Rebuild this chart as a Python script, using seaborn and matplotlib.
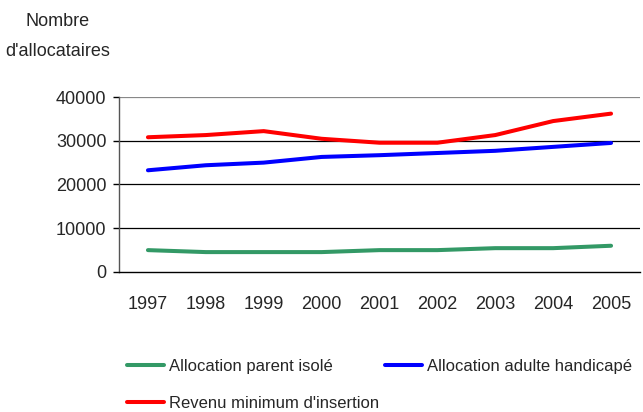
import matplotlib
matplotlib.use("Agg")
import matplotlib.pyplot as plt
import seaborn as sns
import pandas as pd
import numpy as np

years = ["1997", "1998", "1999", "2000", "2001", "2002", "2003", "2004", "2005"]
api = [5000, 4550, 4550, 4550, 5000, 5000, 5450, 5450, 6000]
aah = [23250, 24400, 25000, 26300, 26700, 27200, 27700, 28600, 29500]
rmi = [30800, 31300, 32200, 30450, 29550, 29550, 31300, 34500, 36200]
series_names = ["Allocation parent isolé", "Allocation adulte handicapé",
                "Revenu minimum d'insertion"]
colors = ["#339966", "#0000FF", "#FF0000"]
y_ticks = [0, 10000, 20000, 30000, 40000]

df = pd.DataFrame({
    "x": list(range(len(years))) * 3,
    "val": api + aah + rmi,
    "serie": [series_names[0]] * len(years) + [series_names[1]] * len(years)
             + [series_names[2]] * len(years),
})

sns.set_style("white")
plt.rcParams["font.family"] = ["Liberation Sans", "DejaVu Sans"]
FS = 13
LFS = 12

fig = plt.figure(figsize=(6.43, 4.12), dpi=100)
ax = fig.add_axes([119 / 643, 1 - 272 / 412, (640 - 119) / 643, (272 - 97) / 412])

sns.lineplot(data=df, x="x", y="val", hue="serie", palette=colors,
             hue_order=series_names, linewidth=2.9, ax=ax, legend=False)

ax.set_xlim(-0.5, 8.5)
ax.set_ylim(0, 40000)
ax.set_yticks(y_ticks)
ax.set_yticklabels([str(v) for v in y_ticks], fontsize=FS)
ax.set_xticks(range(len(years)))
ax.set_xticklabels(years, fontsize=FS)
ax.set_xticks(np.arange(-0.5, 8.6, 1), minor=True)
ax.tick_params(axis="x", which="major", length=0, pad=17)
ax.tick_params(axis="x", which="minor", length=4, width=1, color="black", direction="out")
ax.tick_params(axis="y", length=4, width=1, color="black", direction="out", left=True, pad=5)
ax.set_xlabel("")
ax.set_ylabel("")

for v in y_ticks[1:]:
    ax.axhline(v, color="black" if v < 40000 else "#888888", linewidth=0.9, zorder=0)

for s in ["top", "right"]:
    ax.spines[s].set_visible(False)
ax.spines["left"].set_color("#555555")
ax.spines["left"].set_linewidth(1)
ax.spines["bottom"].set_color("black")
ax.spines["bottom"].set_linewidth(1)

fig.text(58 / 643, 1 - 22 / 412, "Nombre", ha="center", va="center", fontsize=FS)
fig.text(58 / 643, 1 - 52 / 412, "d'allocataires", ha="center", va="center", fontsize=FS)

handles = [plt.Line2D([], [], color=c, linewidth=2.9) for c in colors]
order = [0, 2, 1]
leg = fig.legend([handles[i] for i in order], [series_names[i] for i in order],
                 ncol=2, loc="upper left", bbox_to_anchor=(127 / 643, 1 - 359 / 412),
                 frameon=False, fontsize=LFS, handlelength=2.2, handletextpad=0.3,
                 columnspacing=0.4, labelspacing=1.3, borderaxespad=0, borderpad=0)

fig.savefig("out.png", dpi=100)
